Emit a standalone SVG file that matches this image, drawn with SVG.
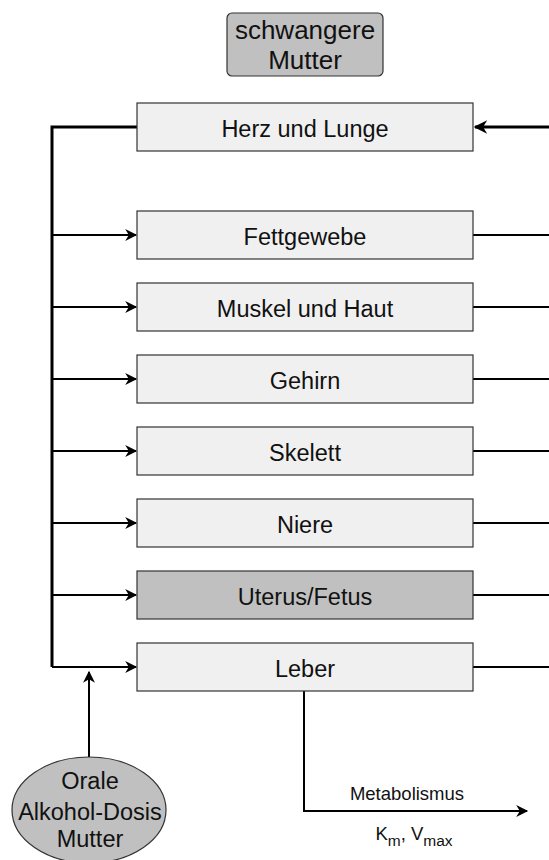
<svg xmlns="http://www.w3.org/2000/svg" width="549" height="860" viewBox="0 0 549 860">
  <defs>
    <style>
      .box { fill: #f0f0f0; stroke: #333; stroke-width: 1.2; }
      .dark { fill: #c0c0c0; stroke: #333; stroke-width: 1.2; }
      .label { font-family: "Liberation Sans", Arial, sans-serif; font-size: 23.5px; fill: #111; text-anchor: middle; }
      .title { font-family: "Liberation Sans", Arial, sans-serif; font-size: 26px; fill: #111; text-anchor: middle; }
      .small { font-family: "Liberation Sans", Arial, sans-serif; font-size: 18.5px; fill: #111; text-anchor: middle; }
      .main { fill: none; stroke: #000; stroke-width: 3; }
      .branch { fill: none; stroke: #000; stroke-width: 2; }
    </style>
    <marker id="arrow" viewBox="0 0 10 10" refX="9" refY="5" markerWidth="6.5" markerHeight="6" orient="auto" markerUnits="strokeWidth">
      <path d="M0,0 L10,5 L0,10 L3,5 Z" fill="#000"/>
    </marker>
    <marker id="arrowThick" viewBox="0 0 10 10" refX="9" refY="5" markerWidth="5" markerHeight="4.5" orient="auto" markerUnits="strokeWidth">
      <path d="M0,0 L10,5 L0,10 L3,5 Z" fill="#000"/>
    </marker>
  </defs>

  <!-- connectors -->
  <g id="connectors">
    <!-- venous collection from organs (right side) -->
    <path class="main" d="M549,127 L475,127" marker-end="url(#arrowThick)"/>
    <path class="branch" d="M473,235 H549 M473,307 H549 M473,379 H549 M473,451 H549 M473,523 H549 M473,595 H549 M473,667 H549"/>
    <!-- arterial distribution (left side) -->
    <path class="main" d="M137,127 H52 V667"/>
    <path class="branch" d="M52,235 H136" marker-end="url(#arrow)"/>
    <path class="branch" d="M52,307 H136" marker-end="url(#arrow)"/>
    <path class="branch" d="M52,379 H136" marker-end="url(#arrow)"/>
    <path class="branch" d="M52,451 H136" marker-end="url(#arrow)"/>
    <path class="branch" d="M52,523 H136" marker-end="url(#arrow)"/>
    <path class="branch" d="M52,595 H136" marker-end="url(#arrow)"/>
    <path class="branch" d="M52,667 H136" marker-end="url(#arrow)"/>
    <!-- oral dose -->
    <path class="branch" d="M89,757 V672" marker-end="url(#arrow)"/>
    <!-- metabolism -->
    <path class="branch" d="M304,691 V811 H527" marker-end="url(#arrow)"/>
  </g>

  <g id="mutter">
    <rect class="dark" x="227" y="13" width="156" height="63" rx="5"/>
    <text class="title" x="305" y="39">schwangere</text>
    <text class="title" x="305" y="69">Mutter</text>
  </g>

  <g id="herz-lunge">
    <rect class="box" x="137" y="103" width="336" height="48"/>
    <text class="label" x="305" y="136.5">Herz und Lunge</text>
  </g>
  <g id="fettgewebe">
    <rect class="box" x="137" y="211" width="336" height="48"/>
    <text class="label" x="305" y="244.5">Fettgewebe</text>
  </g>
  <g id="muskel-haut">
    <rect class="box" x="137" y="283" width="336" height="48"/>
    <text class="label" x="305" y="316.5">Muskel und Haut</text>
  </g>
  <g id="gehirn">
    <rect class="box" x="137" y="355" width="336" height="48"/>
    <text class="label" x="305" y="388.5">Gehirn</text>
  </g>
  <g id="skelett">
    <rect class="box" x="137" y="427" width="336" height="48"/>
    <text class="label" x="305" y="460.5">Skelett</text>
  </g>
  <g id="niere">
    <rect class="box" x="137" y="499" width="336" height="48"/>
    <text class="label" x="305" y="532.5">Niere</text>
  </g>
  <g id="uterus-fetus">
    <rect class="dark" x="137" y="571" width="336" height="48"/>
    <text class="label" x="305" y="604.5">Uterus/Fetus</text>
  </g>
  <g id="leber">
    <rect class="box" x="137" y="643" width="336" height="48"/>
    <text class="label" x="305" y="676.5">Leber</text>
  </g>

  <g id="dosis">
    <ellipse class="dark" cx="89" cy="810" rx="77" ry="53"/>
    <text class="label" x="90" y="789">Orale</text>
    <text class="label" x="90" y="820">Alkohol-Dosis</text>
    <text class="label" x="90" y="847">Mutter</text>
  </g>

  <g id="metabolismus-labels">
    <text class="small" x="407" y="800">Metabolismus</text>
    <text class="small" x="414" y="840">K<tspan font-size="15.5" dy="6">m</tspan><tspan dy="-6">, V</tspan><tspan font-size="15.5" dy="6">max</tspan></text>
  </g>
</svg>
